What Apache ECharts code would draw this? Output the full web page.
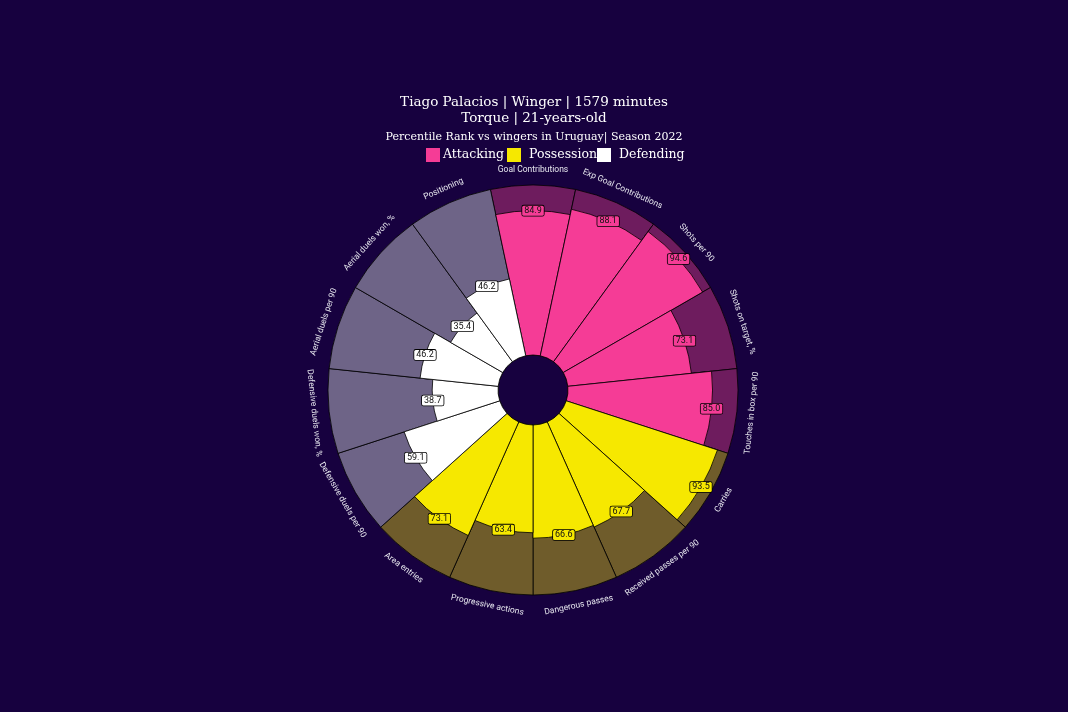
<!DOCTYPE html>
<html>
<head>
<meta charset="utf-8">
<script src="https://cdn.jsdelivr.net/npm/echarts@6/dist/echarts.min.js"></script>
<style>
html,body{margin:0;padding:0;background:#17013f;}
#chart{width:1068px;height:712px;}
</style>
</head>
<body>
<div id="chart"></div>
<script>
// ---- data ----
var params = ["Goal Contributions","Exp Goal Contributions","Shots per 90","Shots on target, %","Touches in box per 90",
  "Carries","Received passes per 90","Dangerous passes","Progressive actions","Area entries",
  "Defensive duels per 90","Defensive duels won, %","Aerial duels per 90","Aerial duels won, %","Positioning"];
var values = [84.9, 88.1, 94.6, 73.1, 85.0, 93.5, 67.7, 66.6, 63.4, 73.1, 59.1, 38.7, 46.2, 35.4, 46.2];
var groups = ["Attacking","Attacking","Attacking","Attacking","Attacking",
  "Possession","Possession","Possession","Possession","Possession",
  "Defending","Defending","Defending","Defending","Defending"];
var groupNames = ["Attacking","Possession","Defending"];
var titleLine1 = "Tiago Palacios | Winger | 1579 minutes";
var titleLine2 = "Torque | 21-years-old";
var subTitle = "Percentile Rank vs wingers in Uruguay| Season 2022";

// ---- styles ----
var BG = '#17013f';
var sliceColor = {Attacking:'#f53c96', Possession:'#f6e800', Defending:'#ffffff'};
var backColor = {Attacking:'#6e1c5e', Possession:'#6f5c2b', Defending:'#6e6487'};
var legendLeft = [426, 507, 597];
var legendTextPad = [-2, 3, 3];

var chart = echarts.init(document.getElementById('chart'));

var bgData = params.map(function(p, i){
  return {value: 100, itemStyle:{color: backColor[groups[i]]}};
});
var groupSeries = groupNames.map(function(g){
  return {
    name: g, type:'bar', coordinateSystem:'polar',
    barGap:'-100%', barCategoryGap:'0%',
    itemStyle:{color: sliceColor[g], borderColor:'#000', borderWidth:0.8},
    data: values.map(function(v, i){ return groups[i] === g ? v : '-'; }),
    z: 3, silent:true
  };
});

function dirOf(api, i){
  var p0 = api.coord([0, i]);
  var p1 = api.coord([100, i]);
  var dx = p1[0]-p0[0], dy = p1[1]-p0[1];
  var len = Math.sqrt(dx*dx+dy*dy);
  return {p0:p0, p1:p1, ux:dx/len, uy:dy/len};
}

var option = {
  backgroundColor: BG,
  animation:false,
  title:[
    {text: titleLine1 + '\n' + titleLine2, left:'center', top:89,
     textStyle:{color:'#ffffff', fontFamily:'DejaVu Serif', fontSize:13.5, fontWeight:'normal', lineHeight:16.5}},
    {text: subTitle, left:'center', top:127,
     textStyle:{color:'#ffffff', fontFamily:'DejaVu Serif', fontSize:11, fontWeight:'normal'}}
  ],
  legend: groupNames.map(function(g, k){
    return {data:[g], left:legendLeft[k], top:148, padding:0, itemWidth:14, itemHeight:14, icon:'rect',
      itemStyle:{borderWidth:0},
      textStyle:{color:'#ffffff', fontFamily:'DejaVu Serif', fontSize:12.5, padding:[0,0,0,legendTextPad[k]]}};
  }),
  polar:{center:[533, 390], radius:[35, 205]},
  angleAxis:{type:'category', data: params, startAngle: 102, clockwise:true,
    axisLine:{show:false}, axisTick:{show:false}, axisLabel:{show:false}, splitLine:{show:false}},
  radiusAxis:{type:'value', min:0, max:100,
    axisLine:{show:false}, axisTick:{show:false}, axisLabel:{show:false}, splitLine:{show:false}},
  series:[
    {name:'bg', type:'bar', coordinateSystem:'polar', barGap:'-100%', barCategoryGap:'0%',
     itemStyle:{borderColor:'#000', borderWidth:0.8}, data:bgData, z:1, silent:true}
  ].concat(groupSeries).concat([
    {type:'custom', coordinateSystem:'polar', z:5, silent:true,
     data: values.map(function(v, i){ return [v, i]; }),
     renderItem: function(prm, api){
       var i = api.value(1);
       var pt = api.coord([api.value(0), i]);
       var g = groups[i];
       return {type:'text', style:{text: values[i].toFixed(1), x:pt[0], y:pt[1],
         align:'center', verticalAlign:'middle', fill:'#111', fontSize:9, fontFamily:'Roboto',
         backgroundColor: sliceColor[g], borderColor:'#000', borderWidth:0.8, borderRadius:1.5,
         padding:[1,2,0,2]}};
     }},
    {type:'custom', coordinateSystem:'polar', z:5, silent:true,
     data: values.map(function(v, i){ return [100, i]; }),
     renderItem: function(prm, api){
       var i = api.value(1);
       var d = dirOf(api, i);
       var x = d.p1[0] + d.ux*15, y = d.p1[1] + d.uy*15;
       var ang = Math.atan2(-d.uy, d.ux);
       var rot = ang >= 0 ? ang - Math.PI/2 : ang + Math.PI/2;
       return {type:'text', x:x, y:y, rotation: rot,
         style:{text: params[i], x:0, y:0, align:'center', verticalAlign:'middle',
           fill:'#e6e6ee', fontSize:8.5, fontFamily:'Roboto'}};
     }}
  ])
};
chart.setOption(option);
</script>
</body>
</html>
